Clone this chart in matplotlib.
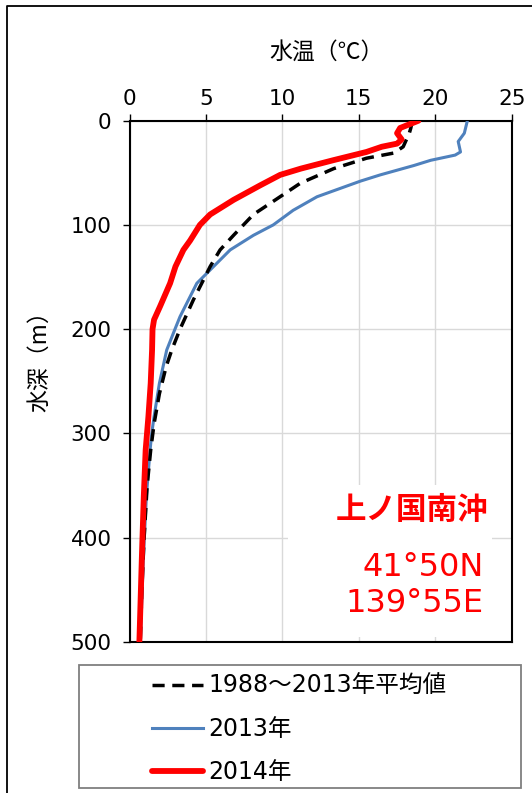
import matplotlib
matplotlib.use("Agg")
import matplotlib.pyplot as plt
from matplotlib.lines import Line2D
from matplotlib.patches import Rectangle

# 上ノ国南沖 水温の鉛直分布

# 1988~2013年平均値
depth_avg = [0, 7, 12, 25, 31, 36, 46, 60, 75, 90, 110, 124, 140, 172, 200,
             220, 236, 262, 291, 316, 350, 400, 450, 500]
temp_avg = [18.5, 18.4, 18.3, 17.9, 17.3, 15.5, 13.35, 11.17, 9.64, 8.1, 6.8,
            5.92, 5.27, 4.17, 3.3, 2.76, 2.39, 1.95, 1.6, 1.38, 1.15, 0.95, 0.8, 0.7]

# 2013年
depth_2013 = [0, 12, 20, 30, 33, 38, 43, 52, 58, 73, 86, 100, 110, 124, 156,
              188, 200, 220, 252, 284, 300, 316, 360, 420, 500]
temp_2013 = [22.1, 21.9, 21.5, 21.65, 21.3, 19.7, 18.6, 16.4, 15.1, 12.26, 10.7,
             9.4, 8.1, 6.58, 4.4, 3.3, 2.97, 2.43, 1.95, 1.6, 1.45, 1.34, 1.1, 0.9, 0.7]

# 2014年
depth_2014 = [0, 7, 12, 18, 22, 25, 30, 38, 46, 52, 62, 76, 90, 100, 115, 124,
              140, 156, 178, 191, 200, 220, 252, 284, 316, 360, 420, 470, 500]
temp_2014 = [18.9, 17.7, 17.5, 17.8, 17.5, 16.5, 15.5, 13.3, 11.2, 9.85, 8.55,
             6.8, 5.27, 4.6, 3.96, 3.52, 3.0, 2.65, 2.0, 1.6, 1.5, 1.47, 1.38,
             1.23, 1.05, 0.93, 0.8, 0.7, 0.64]

labels = ["1988～2013年平均値", "2013年", "2014年"]
x_ticks = [0, 5, 10, 15, 20, 25]
y_ticks = [0, 100, 200, 300, 400, 500]

plt.rcParams["font.family"] = ["DejaVu Sans", "Noto Sans CJK JP"]

W, H = 532, 793
fig = plt.figure(figsize=(W / 100, H / 100), dpi=100)

def fx(px):
    return px / W

def fy(py):
    return 1 - py / H

ax = fig.add_axes([fx(129.6), fy(641.7), fx(511.7) - fx(129.6), fy(120.7) - fy(641.7)])

l_avg, = ax.plot(temp_avg, depth_avg, color="black", lw=2.5, dashes=(3.5, 2.2), zorder=4)
l_13, = ax.plot(temp_2013, depth_2013, color="#4F81BD", lw=2.2, zorder=3)
l_14, = ax.plot(temp_2014, depth_2014, color="#FF0000", lw=4.2, zorder=5,
                solid_joinstyle="round", solid_capstyle="round")

ax.set_xlim(0, 25)
ax.set_ylim(500, 0)
ax.xaxis.tick_top()
ax.set_xticks(x_ticks)
ax.set_yticks(y_ticks)
ax.tick_params(direction="out", length=5, width=1, labelsize=15.5)
ax.tick_params(axis="x", pad=3.5)
ax.tick_params(axis="y", pad=8)
ax.grid(color="#d9d9d9", lw=1)
ax.set_axisbelow(True)
for s in ax.spines.values():
    s.set_linewidth(1.5)

# 軸タイトル
fig.text(fx(327), fy(52), "水温（℃）", ha="center", va="center", fontsize=16.5,
         family=["Noto Sans CJK JP"])
fig.text(fx(40), fy(356), "水深（m）", ha="center", va="center", fontsize=16.5,
         rotation=90, family=["Noto Sans CJK JP"])

# 地点名
ax.add_patch(Rectangle((fx(288), fy(637)), fx(492) - fx(288), fy(485) - fy(637),
                       transform=fig.transFigure, facecolor="white", edgecolor="none", zorder=1))
fig.text(fx(488), fy(510), "上ノ国南沖", ha="right", va="center", fontsize=22,
         color="#FF0000", fontweight="bold", family=["Noto Sans CJK JP"])
fig.text(fx(484), fy(568), "41°50N", ha="right", va="center", fontsize=23, color="#FF0000")
fig.text(fx(484), fy(603), "139°55E", ha="right", va="center", fontsize=23, color="#FF0000")

# 凡例
fig.add_artist(Rectangle((fx(79), fy(788)), fx(521) - fx(79), fy(665) - fy(788),
                         transform=fig.transFigure, fill=False, edgecolor="#7f7f7f", lw=1.3))
ax.legend([l_avg, l_13, l_14], labels, loc="upper left",
          bbox_to_anchor=(fx(152), fy(674)), bbox_transform=fig.transFigure,
          frameon=False, fontsize=17, handlelength=2.16, handletextpad=0.21,
          labelspacing=0.8, borderpad=0, borderaxespad=0)

# 外枠
fig.add_artist(Line2D([fx(7), fx(7), 1.01], [-0.01, fy(6), fy(6)],
                      transform=fig.transFigure, color="black", lw=1.3))

fig.savefig("out.png", dpi=100)
